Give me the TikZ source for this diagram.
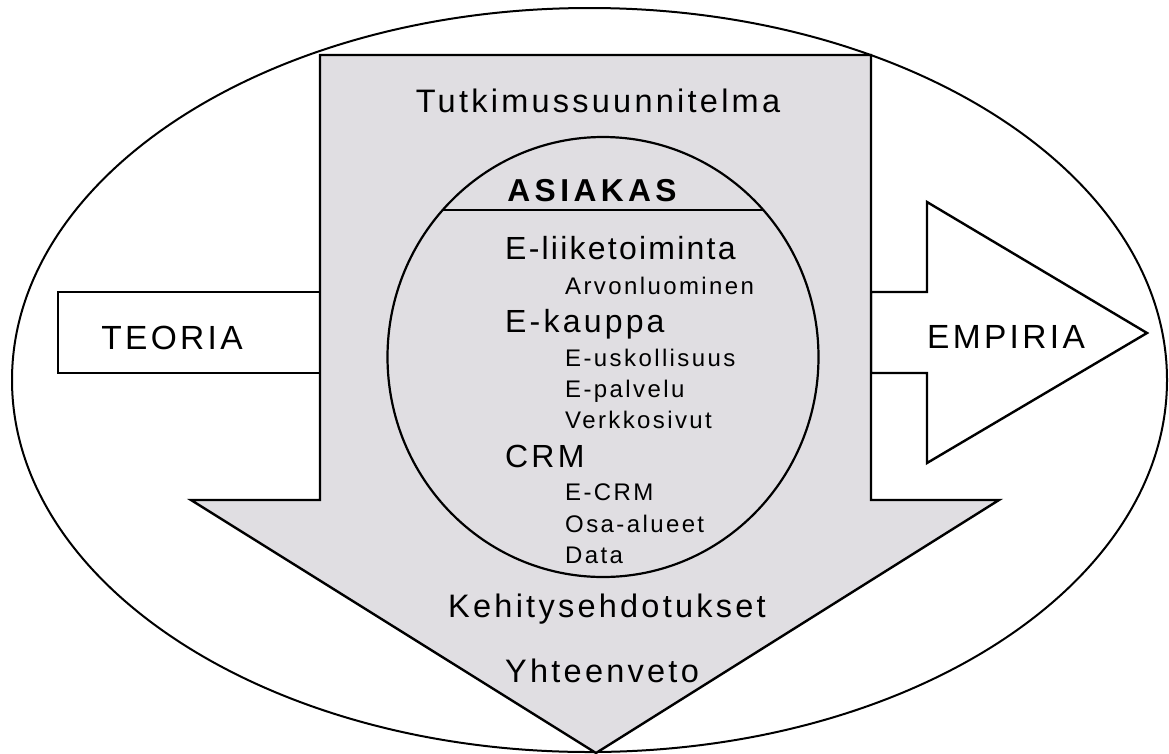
\documentclass[tikz,border=0pt]{standalone}
\usepackage{fontspec}
\setmainfont{Liberation Sans}[LetterSpace=10]
\definecolor{arrowgray}{RGB}{224,222,226}
\tikzset{
  outline/.style={draw=black, line width=2.4pt, line join=miter},
  lbl/.style={inner sep=0pt, anchor=base, font=\fontsize{32.5}{38}\selectfont},
  sidelbl/.style={inner sep=0pt, anchor=base, font=\fontsize{33.5}{40}\selectfont},
  mainitem/.style={inner sep=0pt, anchor=base west, font=\fontsize{32}{38}\selectfont},
  subitem/.style={inner sep=0pt, anchor=base west, font=\fontsize{24}{28}\selectfont},
  headlbl/.style={inner sep=0pt, anchor=base, font=\fontsize{31.7}{38}\selectfont\bfseries\addfontfeature{LetterSpace=14}},
}
\begin{document}
\begin{tikzpicture}[x=1pt,y=-1pt]
\useasboundingbox (0,0) rectangle (1169,753);
\begin{scope}
\clip (0,0) rectangle (1169,753);
% outer ellipse
\draw[line width=2pt] (589.5,380) ellipse [x radius=577.5, y radius=372];
% TEORIA box
\draw[outline, fill=white] (320,292) -- (58,292) -- (58,373) -- (320,373);
% EMPIRIA arrow
\draw[outline, fill=white] (871,292) -- (927,292) -- (927,202) -- (1147,333)
      -- (927,463) -- (927,373) -- (871,373) -- cycle;
% big down arrow
\draw[outline, fill=arrowgray] (320,55) -- (871,55) -- (871,500) -- (999,500)
      -- (596,753) -- (191,500) -- (320,500) -- cycle;
% inner circle
\draw[line width=2.2pt] (603,357) ellipse [x radius=215.5, y radius=220];
\draw[line width=2.2pt] (442.7,210) -- (763.3,210);
\end{scope}
% labels
\node[sidelbl] (teoria) at (172,349) {TEORIA};
\node[sidelbl] (empiria) at (1006,348) {EMPIRIA};
\node[lbl] (tutk) at (598,112) {Tutkimussuunnitelma};
\node[headlbl] (asiakas) at (592,201) {ASIAKAS};
\node[mainitem, font=\fontsize{32}{38}\selectfont\addfontfeature{LetterSpace=7}] (eliike) at (505,259) {E-liiketoiminta};
\node[subitem] (arvon) at (565,294) {Arvonluominen};
\node[mainitem] (ekauppa) at (505,332) {E-kauppa};
\node[subitem] (eusk) at (565,366) {E-uskollisuus};
\node[subitem] (epalv) at (565,397) {E-palvelu};
\node[subitem] (verkko) at (565,428) {Verkkosivut};
\node[mainitem] (crm) at (505,467) {CRM};
\node[subitem] (ecrm) at (565,500) {E-CRM};
\node[subitem] (osa) at (565,532) {Osa-alueet};
\node[subitem] (data) at (565,563) {Data};
\node[lbl] (kehitys) at (607,617) {Kehitysehdotukset};
\node[lbl] (yhteen) at (602,682) {Yhteenveto};
\end{tikzpicture}
\end{document}
